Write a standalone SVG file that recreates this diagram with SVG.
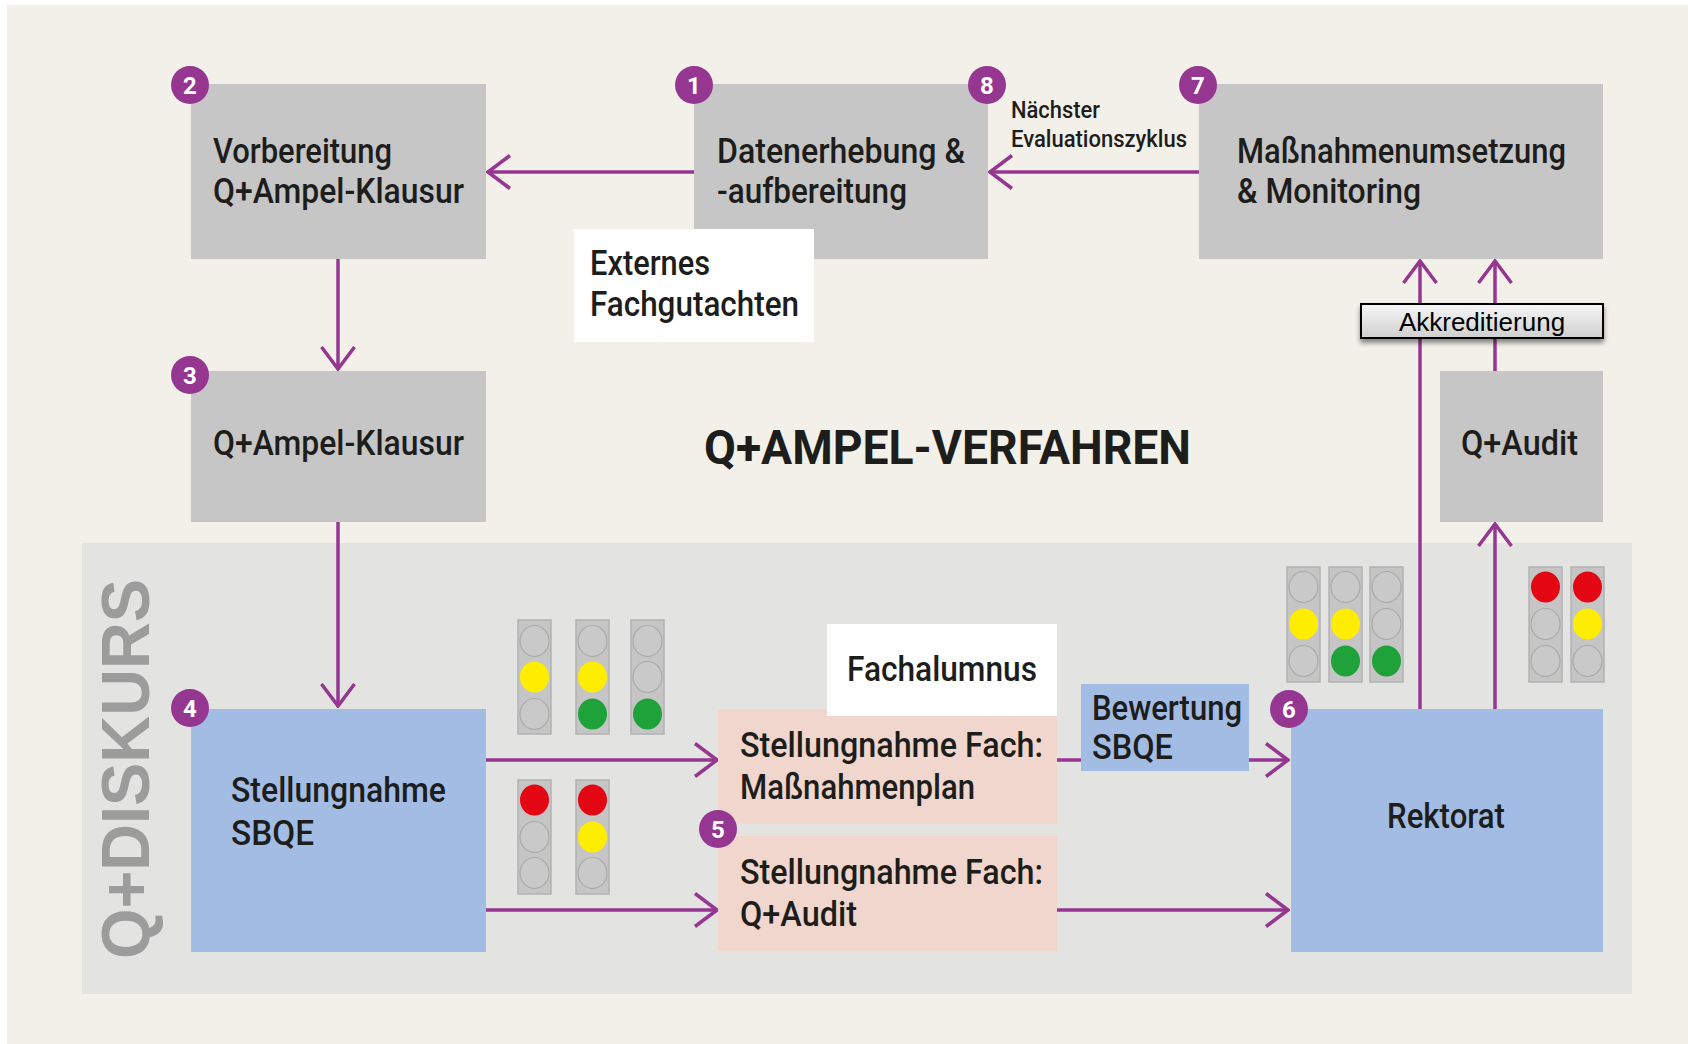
<svg xmlns="http://www.w3.org/2000/svg" width="1688" height="1044" viewBox="0 0 1688 1044">
<style>
.lbl{font-family:Roboto,"Liberation Sans",sans-serif;font-weight:500;font-size:35px;fill:#1d1d1b}
.sml{font-family:Roboto,"Liberation Sans",sans-serif;font-weight:500;font-size:23px;fill:#1d1d1b}
.ttl{font-family:Roboto,"Liberation Sans",sans-serif;font-weight:700;font-size:48px;fill:#1d1d1b}
.gray{fill:#c6c6c6}
.blue{fill:#a3bce3}
.pink{fill:#f0d6cc}
.white{fill:#ffffff}
.con{fill:none;stroke:#953790;stroke-width:3.5;marker-end:url(#arr)}
.badge circle{fill:#953790}
.badge text{font-family:Roboto,"Liberation Sans",sans-serif;font-weight:700;font-size:24px;fill:#ffffff;text-anchor:middle}
.house{fill:#c5c5c5;stroke:#b2b2b2;stroke-width:1.5}
.off{fill:#c9c9c9;stroke:#aaaaaa;stroke-width:1.2}
.r{fill:#e30613}
.y{fill:#ffed00}
.g{fill:#1fa23a}
</style>
<defs>
<marker id="arr" markerUnits="userSpaceOnUse" viewBox="0 0 26 36" refX="24" refY="18" markerWidth="26" markerHeight="36" orient="auto">
<path d="M2,1.5 L24,18 L2,34.5" fill="none" stroke="#953790" stroke-width="3.5"/>
</marker>
<linearGradient id="akg" x1="0" y1="0" x2="0" y2="1">
<stop offset="0" stop-color="#f7f7f7"/>
<stop offset="1" stop-color="#cfcfcf"/>
</linearGradient>
<filter id="shd" x="-10%" y="-30%" width="120%" height="180%">
<feGaussianBlur in="SourceAlpha" stdDeviation="2.5"/>
<feOffset dx="0" dy="4" result="b"/>
<feComponentTransfer><feFuncA type="linear" slope="0.45"/></feComponentTransfer>
<feMerge><feMergeNode/><feMergeNode in="SourceGraphic"/></feMerge>
</filter>
</defs>

<rect x="0" y="0" width="1688" height="1044" fill="#ffffff"/>
<rect x="7" y="5" width="1681" height="1039" fill="#f3f0ea"/>

<g id="q-diskurs">
<rect x="82" y="543" width="1550" height="451" fill="#e3e3e2"/>
<text transform="translate(149,769) rotate(-90)" text-anchor="middle" font-family="'Liberation Sans',Arial,sans-serif" font-size="68" font-weight="700" fill="#9c9c9c" textLength="380" lengthAdjust="spacingAndGlyphs">Q+DISKURS</text>
</g>

<g id="title">
<text class="ttl" x="704" y="464" textLength="487" lengthAdjust="spacingAndGlyphs">Q+AMPEL-VERFAHREN</text>
</g>

<g id="connectors">
<path class="con" d="M694,172 L488,172"/>
<path class="con" d="M1199,172 L990,172"/>
<path class="con" d="M338,259 L338,369"/>
<path class="con" d="M338,522 L338,706"/>
<path class="con" d="M486,760 L717,760"/>
<path class="con" d="M486,910 L717,910"/>
<path class="con" d="M1057,760 L1288,760"/>
<path class="con" d="M1057,910 L1288,910"/>
<path class="con" d="M1420,709 L1420,261"/>
<path class="con" d="M1495,709 L1495,524"/>
<path class="con" d="M1495,371 L1495,261"/>
</g>

<g id="node-vorbereitung">
<rect class="gray" x="191" y="84" width="295" height="175"/>
<text class="lbl" x="213" y="163" textLength="179" lengthAdjust="spacingAndGlyphs">Vorbereitung</text>
<text class="lbl" x="213" y="203" textLength="251" lengthAdjust="spacingAndGlyphs">Q+Ampel-Klausur</text>
</g>

<g id="node-datenerhebung">
<rect class="gray" x="694" y="84" width="294" height="175"/>
<text class="lbl" x="717" y="163" textLength="248" lengthAdjust="spacingAndGlyphs">Datenerhebung &amp;</text>
<text class="lbl" x="717" y="203" textLength="190" lengthAdjust="spacingAndGlyphs">-aufbereitung</text>
</g>

<g id="node-externes">
<rect class="white" x="574" y="229" width="240" height="113"/>
<text class="lbl" x="590" y="275" textLength="120" lengthAdjust="spacingAndGlyphs">Externes</text>
<text class="lbl" x="590" y="316" textLength="209" lengthAdjust="spacingAndGlyphs">Fachgutachten</text>
</g>

<g id="label-naechster">
<text class="sml" x="1011" y="118" textLength="89" lengthAdjust="spacingAndGlyphs">Nächster</text>
<text class="sml" x="1011" y="147" textLength="176" lengthAdjust="spacingAndGlyphs">Evaluationszyklus</text>
</g>

<g id="node-massnahmenumsetzung">
<rect class="gray" x="1199" y="84" width="404" height="175"/>
<text class="lbl" x="1237" y="163" textLength="329" lengthAdjust="spacingAndGlyphs">Maßnahmenumsetzung</text>
<text class="lbl" x="1237" y="203" textLength="184" lengthAdjust="spacingAndGlyphs">&amp; Monitoring</text>
</g>

<g id="node-klausur">
<rect class="gray" x="191" y="371" width="295" height="151"/>
<text class="lbl" x="213" y="455" textLength="251" lengthAdjust="spacingAndGlyphs">Q+Ampel-Klausur</text>
</g>

<g id="node-qaudit">
<rect class="gray" x="1440" y="371" width="163" height="151"/>
<text class="lbl" x="1461" y="455" textLength="117" lengthAdjust="spacingAndGlyphs">Q+Audit</text>
</g>

<g id="node-stellungnahme-sbqe">
<rect class="blue" x="191" y="709" width="295" height="243"/>
<text class="lbl" x="231" y="802" textLength="215" lengthAdjust="spacingAndGlyphs">Stellungnahme</text>
<text class="lbl" x="231" y="845" textLength="83" lengthAdjust="spacingAndGlyphs">SBQE</text>
</g>

<g id="node-fach-massnahmenplan">
<rect class="pink" x="718" y="709" width="339" height="115"/>
<text class="lbl" x="740" y="757" textLength="303" lengthAdjust="spacingAndGlyphs">Stellungnahme Fach:</text>
<text class="lbl" x="740" y="799" textLength="235" lengthAdjust="spacingAndGlyphs">Maßnahmenplan</text>
</g>

<g id="node-fachalumnus">
<rect class="white" x="827" y="624" width="230" height="92"/>
<text class="lbl" x="847" y="681" textLength="190" lengthAdjust="spacingAndGlyphs">Fachalumnus</text>
</g>

<g id="node-fach-qaudit">
<rect class="pink" x="718" y="836" width="339" height="115"/>
<text class="lbl" x="740" y="884" textLength="303" lengthAdjust="spacingAndGlyphs">Stellungnahme Fach:</text>
<text class="lbl" x="740" y="926" textLength="117" lengthAdjust="spacingAndGlyphs">Q+Audit</text>
</g>

<g id="node-bewertung">
<rect class="blue" x="1081" y="684" width="168" height="87"/>
<text class="lbl" x="1092" y="720" textLength="150" lengthAdjust="spacingAndGlyphs">Bewertung</text>
<text class="lbl" x="1092" y="759" textLength="81" lengthAdjust="spacingAndGlyphs">SBQE</text>
</g>

<g id="node-rektorat">
<rect class="blue" x="1291" y="709" width="312" height="243"/>
<text class="lbl" x="1387" y="828" textLength="118" lengthAdjust="spacingAndGlyphs">Rektorat</text>
</g>

<g id="node-akkreditierung">
<rect x="1361" y="304" width="242" height="34" fill="url(#akg)" stroke="#000000" stroke-width="2" filter="url(#shd)"/>
<text x="1482" y="331" text-anchor="middle" font-family="'Liberation Sans',Arial,sans-serif" font-size="26" fill="#000000">Akkreditierung</text>
</g>

<g id="badges">
<g class="badge"><circle cx="694" cy="85" r="19"/><text x="694" y="94">1</text></g>
<g class="badge"><circle cx="190" cy="85" r="19"/><text x="190" y="94">2</text></g>
<g class="badge"><circle cx="190" cy="375" r="19"/><text x="190" y="384">3</text></g>
<g class="badge"><circle cx="190" cy="708" r="19"/><text x="190" y="717">4</text></g>
<g class="badge"><circle cx="718" cy="829" r="19"/><text x="718" y="838">5</text></g>
<g class="badge"><circle cx="1289" cy="709" r="19"/><text x="1289" y="718">6</text></g>
<g class="badge"><circle cx="1198" cy="85" r="19"/><text x="1198" y="94">7</text></g>
<g class="badge"><circle cx="987" cy="85" r="19"/><text x="987" y="94">8</text></g>
</g>

<g id="ampeln-sbqe-oben">
<g transform="translate(518,620)"><rect class="house" width="33" height="114"/><ellipse class="off" cx="16.5" cy="21" rx="14.5" ry="15.5"/><ellipse class="y" cx="16.5" cy="57" rx="14.5" ry="15.5"/><ellipse class="off" cx="16.5" cy="94" rx="14.5" ry="15.5"/></g>
<g transform="translate(576,620)"><rect class="house" width="33" height="114"/><ellipse class="off" cx="16.5" cy="21" rx="14.5" ry="15.5"/><ellipse class="y" cx="16.5" cy="57" rx="14.5" ry="15.5"/><ellipse class="g" cx="16.5" cy="94" rx="14.5" ry="15.5"/></g>
<g transform="translate(631,620)"><rect class="house" width="33" height="114"/><ellipse class="off" cx="16.5" cy="21" rx="14.5" ry="15.5"/><ellipse class="off" cx="16.5" cy="57" rx="14.5" ry="15.5"/><ellipse class="g" cx="16.5" cy="94" rx="14.5" ry="15.5"/></g>
</g>
<g id="ampeln-sbqe-unten">
<g transform="translate(518,780)"><rect class="house" width="33" height="114"/><ellipse class="r" cx="16.5" cy="20" rx="14.5" ry="15.5"/><ellipse class="off" cx="16.5" cy="57" rx="14.5" ry="15.5"/><ellipse class="off" cx="16.5" cy="93" rx="14.5" ry="15.5"/></g>
<g transform="translate(576,780)"><rect class="house" width="33" height="114"/><ellipse class="r" cx="16.5" cy="20" rx="14.5" ry="15.5"/><ellipse class="y" cx="16.5" cy="57" rx="14.5" ry="15.5"/><ellipse class="off" cx="16.5" cy="93" rx="14.5" ry="15.5"/></g>
</g>
<g id="ampeln-rektorat-links">
<g transform="translate(1287,567)"><rect class="house" width="33" height="115"/><ellipse class="off" cx="16.5" cy="20" rx="14.5" ry="15.5"/><ellipse class="y" cx="16.5" cy="57" rx="14.5" ry="15.5"/><ellipse class="off" cx="16.5" cy="94" rx="14.5" ry="15.5"/></g>
<g transform="translate(1329,567)"><rect class="house" width="33" height="115"/><ellipse class="off" cx="16.5" cy="20" rx="14.5" ry="15.5"/><ellipse class="y" cx="16.5" cy="57" rx="14.5" ry="15.5"/><ellipse class="g" cx="16.5" cy="94" rx="14.5" ry="15.5"/></g>
<g transform="translate(1370,567)"><rect class="house" width="33" height="115"/><ellipse class="off" cx="16.5" cy="20" rx="14.5" ry="15.5"/><ellipse class="off" cx="16.5" cy="57" rx="14.5" ry="15.5"/><ellipse class="g" cx="16.5" cy="94" rx="14.5" ry="15.5"/></g>
</g>
<g id="ampeln-rektorat-rechts">
<g transform="translate(1529,567)"><rect class="house" width="33" height="115"/><ellipse class="r" cx="16.5" cy="20" rx="14.5" ry="15.5"/><ellipse class="off" cx="16.5" cy="57" rx="14.5" ry="15.5"/><ellipse class="off" cx="16.5" cy="94" rx="14.5" ry="15.5"/></g>
<g transform="translate(1571,567)"><rect class="house" width="33" height="115"/><ellipse class="r" cx="16.5" cy="20" rx="14.5" ry="15.5"/><ellipse class="y" cx="16.5" cy="57" rx="14.5" ry="15.5"/><ellipse class="off" cx="16.5" cy="94" rx="14.5" ry="15.5"/></g>
</g>
</svg>
